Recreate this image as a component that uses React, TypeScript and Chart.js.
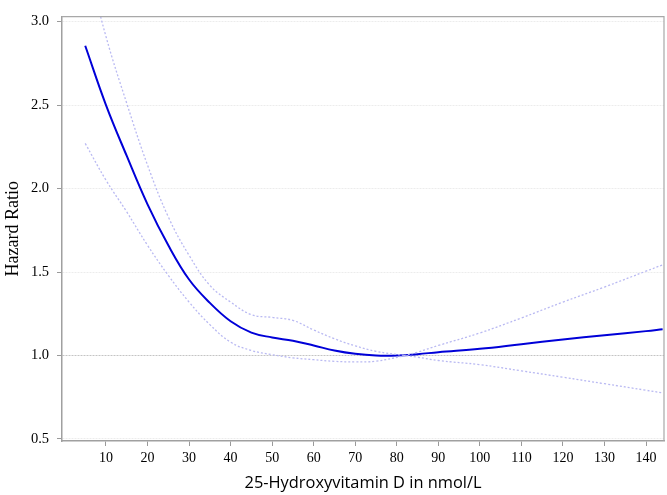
import React, { useEffect, useRef } from "react";
import { Chart, registerables } from "chart.js";

Chart.register(...registerables);

// 25-Hydroxyvitamin D (nmol/L)
const hrX = [5, 10, 15, 20, 25, 30, 35, 40, 45, 50, 55, 60, 65, 70, 75, 80, 85, 90, 100, 110, 120, 130, 140, 144];
const hrY = [2.855, 2.5, 2.195, 1.905, 1.66, 1.455, 1.315, 1.205, 1.137, 1.108, 1.088, 1.06, 1.03, 1.01, 1.0, 1.0, 1.008, 1.02, 1.04, 1.068, 1.096, 1.122, 1.146, 1.157];

// confidence bands (they cross at the reference value)
const ciX = [5, 10, 15, 20, 25, 30, 35, 40, 45, 50, 55, 60, 65, 70, 75, 82, 85, 90, 100, 110, 120, 130, 140, 144];
const ciAY = [3.4, 2.91, 2.51, 2.14, 1.83, 1.6, 1.42, 1.32, 1.245, 1.228, 1.21, 1.153, 1.1, 1.058, 1.025, 1.0, 0.99, 0.97, 0.945, 0.908, 0.87, 0.831, 0.792, 0.776];
const ciBY = [2.27, 2.05, 1.86, 1.66, 1.48, 1.32, 1.185, 1.08, 1.03, 1.005, 0.986, 0.975, 0.965, 0.962, 0.966, 1.0, 1.02, 1.06, 1.135, 1.225, 1.32, 1.41, 1.505, 1.543];

const xTicks = [10, 20, 30, 40, 50, 60, 70, 80, 90, 100, 110, 120, 130, 140];
const yTicks = [0.5, 1.0, 1.5, 2.0, 2.5, 3.0];

const toPts = (xs: number[], ys: number[]) => xs.map((x, i) => ({ x, y: ys[i] }));

const boxPlugin = {
  id: "boxPlugin",
  afterDraw(chart: any) {
    const { ctx, chartArea } = chart;
    ctx.save();
    ctx.strokeStyle = "#a8a8a8";
    ctx.lineWidth = 1.2;
    ctx.beginPath();
    ctx.moveTo(chartArea.left, chartArea.top);
    ctx.lineTo(chartArea.right, chartArea.top);
    ctx.lineTo(chartArea.right, chartArea.bottom);
    ctx.stroke();
    ctx.restore();
  },
};

export default function App() {
  const ref = useRef<HTMLCanvasElement>(null);
  useEffect(() => {
    if (!ref.current) return;
    const ciStyle = {
      borderColor: "#b9b9f2",
      borderWidth: 1.3,
      borderDash: [2, 2],
      pointRadius: 0,
      tension: 0.4,
    };
    const chart = new Chart(ref.current, {
      type: "line",
      data: {
        datasets: [
          { label: "CI A", data: toPts(ciX, ciAY), ...ciStyle },
          { label: "CI B", data: toPts(ciX, ciBY), ...ciStyle },
          {
            label: "HR",
            data: toPts(hrX, hrY),
            borderColor: "#0000d8",
            borderWidth: 2,
            pointRadius: 0,
            tension: 0.4,
          },
        ],
      },
      options: {
        responsive: false,
        devicePixelRatio: 1,
        animation: false,
        layout: { padding: { top: 3, right: 3, left: 0, bottom: 0 } },
        plugins: { legend: { display: false }, tooltip: { enabled: false } },
        scales: {
          x: {
            type: "linear",
            min: -0.59,
            max: 144.33,
            afterBuildTicks: (s: any) => {
              s.ticks = xTicks.map((v) => ({ value: v }));
            },
            afterFit: (s: any) => {
              s.height = 54;
            },
            grid: {
              drawOnChartArea: false,
              drawTicks: true,
              tickLength: 5,
              tickColor: "#9a9a9a",
              tickWidth: 1,
            },
            border: { color: "#a0a0a0", width: 1.5 },
            ticks: {
              color: "#000",
              padding: 4,
              maxRotation: 0,
              font: { family: "Liberation Serif", size: 14 },
              callback: (v: any) => String(v),
            },
            title: {
              display: true,
              text: "25-Hydroxyvitamin D in nmol/L",
              color: "#000",
              font: { family: "Open Sans", size: 16.4 },
              padding: { top: 0, bottom: 2 },
            },
          },
          y: {
            type: "linear",
            min: 0.488,
            max: 3.029,
            afterBuildTicks: (s: any) => {
              s.ticks = yTicks.map((v) => ({ value: v }));
            },
            afterFit: (s: any) => {
              s.width = 62;
            },
            grid: {
              drawOnChartArea: true,
              drawTicks: true,
              tickLength: 5,
              tickColor: "#9a9a9a",
              tickWidth: 1,
              tickBorderDash: [],
              color: (c: any) =>
                c.tick && Math.abs(c.tick.value - 1) < 1e-6 ? "#c4c4c4" : "#ececec",
              lineWidth: 1,
            },
            border: { color: "#a0a0a0", width: 1.5, dash: [2, 1] },
            ticks: {
              color: "#000",
              padding: 8,
              font: { family: "Liberation Serif", size: 14.5 },
              callback: (v: any) => Number(v).toFixed(1),
            },
            title: {
              display: true,
              text: "Hazard Ratio",
              color: "#000",
              font: { family: "Liberation Serif", size: 18 },
              padding: { top: 2, bottom: 0 },
            },
          },
        },
      },
      plugins: [boxPlugin],
    } as any);
    return () => chart.destroy();
  }, []);
  return (
    <div style={{ position: "fixed", left: 0, top: 0, width: 667, height: 495, background: "#fff" }}>
      <canvas ref={ref} width={667} height={495} />
    </div>
  );
}
